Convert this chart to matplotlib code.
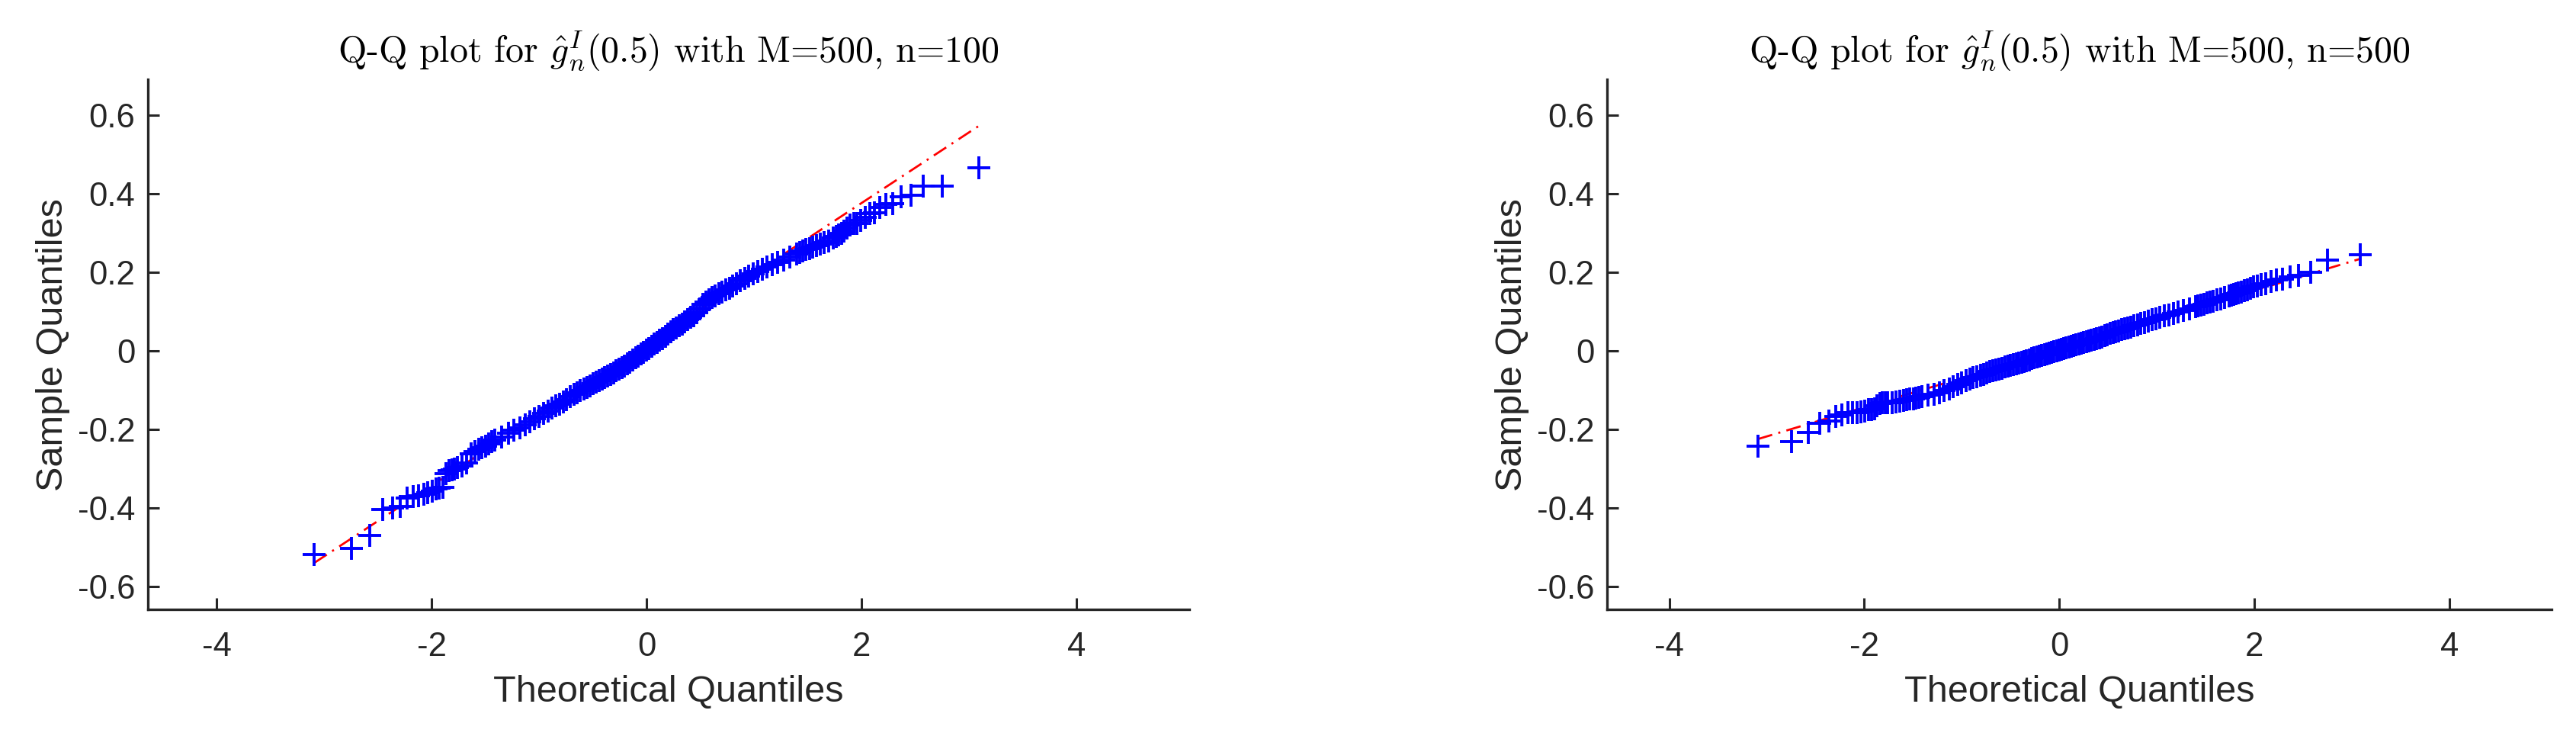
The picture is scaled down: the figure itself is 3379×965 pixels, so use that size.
import numpy as np
import matplotlib
matplotlib.use("Agg")
import matplotlib.pyplot as plt
from statistics import NormalDist

# sample size used for the plotting positions
M = 500

RANKS = (list(range(1, 21)) + list(range(22, 40, 2)) + list(range(40, 461, 5))
         + list(range(462, 481, 2)) + list(range(481, 501)))

# sorted sample values at those ranks, n=100
left_y = [
    # ranks 1..20
    -0.517, -0.503, -0.470, -0.403, -0.399, -0.395, -0.374, -0.370, -0.369, -0.364,
    -0.360, -0.357, -0.351, -0.348, -0.346, -0.312, -0.305, -0.302, -0.300, -0.297,
    # ranks 22..38
    -0.292, -0.285, -0.262, -0.255, -0.250, -0.246, -0.242, -0.236, -0.230,
    # ranks 40..460 step 5
    -0.226, -0.218, -0.210, -0.202, -0.195, -0.187, -0.180, -0.173, -0.166, -0.159,
    -0.152, -0.146, -0.140, -0.135, -0.129, -0.123, -0.117, -0.111, -0.106, -0.101,
    -0.097, -0.093, -0.089, -0.084, -0.080, -0.075, -0.071, -0.067, -0.063, -0.059,
    -0.055, -0.051, -0.047, -0.043, -0.038, -0.033, -0.028, -0.023, -0.018, -0.013,
    -0.008, -0.003, 0.002, 0.007, 0.012, 0.017, 0.022, 0.027, 0.032, 0.037,
    0.043, 0.048, 0.054, 0.059, 0.064, 0.069, 0.074, 0.079, 0.085, 0.090,
    0.097, 0.108, 0.118, 0.125, 0.131, 0.136, 0.140, 0.145, 0.150, 0.155,
    0.160, 0.166, 0.172, 0.178, 0.184, 0.190, 0.196, 0.202, 0.208, 0.214,
    0.220, 0.226, 0.232, 0.239, 0.247,
    # ranks 462..480
    0.250, 0.254, 0.258, 0.261, 0.265, 0.268, 0.272, 0.276, 0.280, 0.288,
    # ranks 481..500
    0.292, 0.296, 0.300, 0.305, 0.312, 0.320, 0.3236, 0.325, 0.333, 0.340,
    0.350, 0.352, 0.366, 0.372, 0.374, 0.393, 0.397, 0.419, 0.419, 0.466]

# sorted sample values at those ranks, n=500
right_y = [
    -0.243, -0.230, -0.2065, -0.1845, -0.179, -0.166, -0.163, -0.157, -0.157, -0.157,
    -0.155, -0.152, -0.149, -0.149, -0.148, -0.139, -0.133, -0.132, -0.131, -0.131,
    -0.131, -0.130, -0.128, -0.126, -0.124, -0.122, -0.121, -0.119, -0.118,
    -0.116, -0.113, -0.110, -0.106, -0.101, -0.096, -0.090, -0.085, -0.081, -0.076,
    -0.072, -0.068, -0.065, -0.062, -0.059, -0.056, -0.053, -0.050, -0.048, -0.046,
    -0.044, -0.041, -0.039, -0.036, -0.034, -0.032, -0.030, -0.028, -0.026, -0.024,
    -0.022, -0.020, -0.018, -0.016, -0.014, -0.012, -0.010, -0.008, -0.006, -0.004,
    -0.002, 0.000, 0.002, 0.004, 0.006, 0.008, 0.010, 0.012, 0.014, 0.016,
    0.018, 0.020, 0.022, 0.024, 0.026, 0.028, 0.030, 0.032, 0.034, 0.036,
    0.039, 0.041, 0.044, 0.046, 0.049, 0.051, 0.054, 0.056, 0.059, 0.061,
    0.064, 0.067, 0.070, 0.073, 0.076, 0.079, 0.082, 0.085, 0.089, 0.092,
    0.096, 0.100, 0.104, 0.108, 0.113,
    0.115, 0.117, 0.119, 0.122, 0.124, 0.127, 0.130, 0.133, 0.136, 0.140,
    0.142, 0.144, 0.146, 0.148, 0.150, 0.153, 0.156, 0.160, 0.163, 0.166,
    0.170, 0.172, 0.176, 0.180, 0.183, 0.188, 0.193, 0.200, 0.232, 0.245]

# first and third sample quartiles (define the reference line)
left_quart = [-0.1045, 0.138]
right_quart = [-0.0448, 0.0553]

titles = [r"Q-Q plot for $\hat{g}_n^I(0.5)$ with M=500, n=100",
          r"Q-Q plot for $\hat{g}_n^I(0.5)$ with M=500, n=500"]
xticks = [-4, -2, 0, 2, 4]
yticks = [-0.6, -0.4, -0.2, 0, 0.2, 0.4, 0.6]
ytick_labels = ["-0.6", "-0.4", "-0.2", "0", "0.2", "0.4", "0.6"]

plt.rcParams["mathtext.fontset"] = "cm"
plt.rcParams["axes.unicode_minus"] = False
plt.rcParams["font.family"] = ["Liberation Sans", "DejaVu Sans"]

axcol = "#262626"
fig = plt.figure(figsize=(33.79, 9.65), dpi=100)
ax1 = fig.add_axes([0.0574, 0.1717, 0.4043, 0.7205])
ax2 = fig.add_axes([0.6238, 0.1717, 0.3667, 0.7205])

nd = NormalDist()
theo = np.array([nd.inv_cdf((r - 0.5) / M) for r in RANKS])
zq = nd.inv_cdf(0.75)

for ax, ys, quart, ttl in [(ax1, left_y, left_quart, titles[0]), (ax2, right_y, right_quart, titles[1])]:
    # reference line through the quartiles, under the markers
    slope = (quart[1] - quart[0]) / (2 * zq)
    mid = (quart[0] + quart[1]) / 2
    xl = np.array([theo.min(), theo.max()])
    ln, = ax.plot(xl, mid + slope * xl, color="red", lw=2.0, zorder=2)
    ln.set_dashes([7, 3, 1, 3])
    ax.plot(theo, ys, "+", color="blue", markersize=21, markeredgewidth=2.8, zorder=3)

    ax.set_xlim(-4.64, 5.05)
    ax.set_ylim(-0.658, 0.691)
    ax.set_xticks(xticks)
    ax.set_yticks(yticks)
    ax.set_yticklabels(ytick_labels)
    for s in ["top", "right"]:
        ax.spines[s].set_visible(False)
    for s in ["left", "bottom"]:
        ax.spines[s].set_linewidth(2.4)
        ax.spines[s].set_color(axcol)
    ax.tick_params(direction="in", length=10.8, width=2.2, color=axcol, labelcolor=axcol,
                   labelsize=31.5)
    ax.tick_params(axis="x", pad=21)
    ax.tick_params(axis="y", pad=12)
    ax.set_xlabel("Theoretical Quantiles", fontsize=35, color=axcol, labelpad=11)
    ax.set_ylabel("Sample Quantiles", fontsize=35, color=axcol, labelpad=7)
    ax.set_title(ttl, fontsize=34.5, family="cmr10", pad=17)

fig.savefig("out.png", dpi=100)
